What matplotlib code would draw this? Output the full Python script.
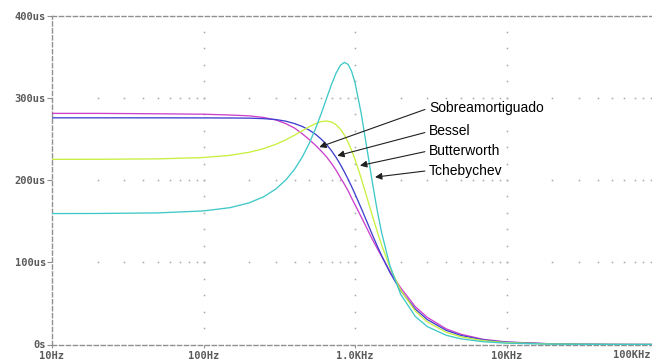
import matplotlib
matplotlib.use('Agg')
import matplotlib.pyplot as plt

# frequencia (Hz) e atraso de grupo (us)
freq = [10, 20, 50, 100, 150, 200, 250, 300, 350, 400, 450, 500, 550, 600, 650, 700,
        750, 800, 850, 900, 950, 1000, 1100, 1200, 1300, 1400, 1500, 1700, 2000, 2500,
        3000, 4000, 5000, 7000, 10000, 20000, 50000, 100000]

sobre = [281, 281, 280.5, 280, 279, 278, 276, 273, 268.5, 263, 256, 249, 242, 235, 228, 220,
         212, 203, 195, 187, 178, 170, 155, 141, 128, 117, 107, 89, 69, 46,
         33, 19, 12.5, 6.3, 3.1, 0.8, 0.13, 0.03]
bessel = [275.6, 275.6, 275.6, 275.5, 275.4, 275.2, 274.6, 273.5, 271.5, 268.5, 265, 260.5, 255.5, 249.5, 243, 235.5,
          227.5, 219, 210, 201, 192, 183, 165.5, 149, 133.7, 120, 108, 87.6, 65.6, 43.1,
          30.3, 17.2, 11, 5.6, 2.76, 0.69, 0.11, 0.028]
butter = [225.1, 225.2, 225.7, 227.3, 230, 233.7, 238.2, 243.4, 248.9, 254.6, 260, 264.8, 268.6, 271, 271.7, 270.5,
          267.2, 261.9, 254.8, 246, 236, 225.1, 201.9, 178.7, 157, 137.6, 120.7, 93.6, 66.2, 40.7,
          27.4, 14.9, 9.35, 4.7, 2.27, 0.56, 0.09, 0.0225]
cheb = [159.2, 159.3, 160, 162.4, 166.4, 172.2, 179.7, 189, 200.2, 213.3, 228.3, 244.9, 262.8, 281.3, 299.5, 316.2,
        330, 339.3, 343, 340.6, 332.1, 318.4, 280.5, 237.8, 197.7, 163.5, 135.7, 95.8, 61.2, 34.1,
        21.8, 11.2, 6.9, 3.4, 1.62, 0.4, 0.064, 0.016]

names = ['Sobreamortiguado', 'Bessel', 'Butterworth', 'Tchebychev']
colors = ['#cc40cc', '#4040d0', '#c8f040', '#40c8c8']

# pontas das setas (Hz, us) e posicao dos textos
tips = [(581, 240), (764, 229.5), (1079, 217.5), (1356, 203.5)]
label_x = 3080
label_y = [287.5, 259, 235.5, 211.5]

xticks = [10, 100, 1000, 10000, 100000]
xlabels = ['10Hz', '100Hz', '1.0KHz', '10KHz', '100KHz']
yticks = [0, 100, 200, 300, 400]
ylabels = ['0s', '100us', '200us', '300us', '400us']

fig = plt.figure(figsize=(6.52, 3.62), dpi=100)
ax = fig.add_axes([52 / 652, 17.5 / 362, 606 / 652, 329 / 362])

for ys, c in zip([sobre, bessel, butter, cheb], colors):
    ax.plot(freq, ys, color=c, lw=0.95, zorder=3)

ax.set_xscale('log')
ax.set_xlim(10, 100000)
ax.set_ylim(0, 400)

# grade pontilhada
grid_c = '#a8a8a8'
minor_x = [m * 10 ** k for k in range(1, 5) for m in range(2, 10)]
for yv in (100, 200, 300):
    ax.plot(minor_x + xticks[1:4], [yv] * (len(minor_x) + 3), ls='none', marker='s',
            ms=1.1, mew=0, color=grid_c, zorder=1)
for xv in xticks[1:4]:
    yy = list(range(20, 400, 20))
    ax.plot([xv] * len(yy), yy, ls='none', marker='s', ms=1.1, mew=0, color=grid_c, zorder=1)

for s in ('left', 'top', 'bottom'):
    ax.spines[s].set_color('#909090')
    ax.spines[s].set_linewidth(1.0)
    ax.spines[s].set_linestyle((0, (3, 2)))
ax.spines['right'].set_visible(False)

tick_font = dict(family='DejaVu Sans Mono', weight='bold', size=7.5)
ax.set_xticks(xticks)
# o ultimo rotulo fica fora da imagem; desenha-se a parte dentro da figura
ax.set_xticklabels(xlabels[:-1] + [''], color='#5a5a5a', **tick_font)
ax.annotate(xlabels[-1], xy=(1, 0), xycoords='axes fraction', xytext=(-7, -6),
            textcoords='offset pixels', ha='right', va='top', color='#5a5a5a', **tick_font)
ax.minorticks_off()
ax.set_yticks(yticks)
ax.set_yticklabels(ylabels, color='#5a5a5a', **tick_font)
ax.tick_params(axis='y', direction='out', length=3.5, width=0.8, color='#909090', pad=1)
ax.tick_params(axis='x', direction='out', length=2, width=0.8, color='#909090', pad=3)

for name, (tx, ty), ly in zip(names, tips, label_y):
    ax.annotate(name, xy=(tx, ty), xytext=(label_x, ly), ha='left', va='center',
                fontsize=10, family='Liberation Sans', color='black',
                arrowprops=dict(arrowstyle='-|>', color='#202020', lw=0.8,
                                shrinkA=1, shrinkB=0, mutation_scale=10,
                                relpos=(0, 0.5)), zorder=5)

fig.savefig('out.png', dpi=100)
